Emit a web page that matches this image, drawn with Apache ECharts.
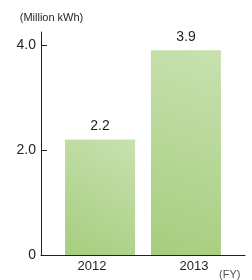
<!DOCTYPE html>
<html>
<head>
<meta charset="utf-8">
<script src="https://cdn.jsdelivr.net/npm/echarts@6/dist/echarts.min.js"></script>
<style>
  html, body { margin: 0; padding: 0; background: #fff; }
  #chart { width: 252px; height: 280px; }
</style>
</head>
<body>
<div id="chart"></div>
<script>
const years = ['2012', '2013'];
const values = [2.2, 3.9];
const yTicks = [0, 2, 4];

const chart = echarts.init(document.getElementById('chart'), null, { renderer: 'canvas' });

const barColor = new echarts.graphic.LinearGradient(1, 0, 0, 1, [
    { offset: 0, color: '#c8e1b0' },
    { offset: 1, color: '#a6cd7e' }
]);

// two series so the bars sit slightly off the category centres like the original
const first = values.map((v, i) => (i === 1 ? v : '-'));
const second = values.map((v, i) => (i === 0 ? v : '-'));

const barLabel = {
    show: true,
    position: 'top',
    distance: 6,
    color: '#231f20',
    fontSize: 14,
    fontFamily: 'Liberation Sans',
    formatter: p => (typeof p.value === 'number' ? p.value.toFixed(1) : '')
};

const option = {
    animation: false,
    grid: { left: 41, right: 7, top: 32, bottom: 23 },
    xAxis: {
        type: 'category',
        data: years,
        name: '(FY)',
        nameLocation: 'end',
        nameGap: -26,
        nameTextStyle: {
            color: '#555',
            fontSize: 11,
            fontFamily: 'Liberation Sans',
            verticalAlign: 'top',
            padding: [14, 0, 0, 0]
        },
        axisLine: { show: true, lineStyle: { color: '#231f20', width: 1 } },
        axisTick: { show: false },
        axisLabel: {
            color: '#231f20',
            fontSize: 13,
            fontFamily: 'Liberation Sans',
            margin: 5
        }
    },
    yAxis: {
        type: 'value',
        min: 0,
        max: 4.25,
        name: '(Million kWh)',
        nameLocation: 'end',
        nameGap: 9,
        nameTextStyle: {
            color: '#231f20',
            fontSize: 11,
            fontFamily: 'Liberation Sans',
            padding: [0, 0, 0, 21]
        },
        splitLine: { show: false },
        axisLine: { show: true, lineStyle: { color: '#231f20', width: 1 } },
        axisTick: {
            show: true,
            inside: true,
            length: 6,
            customValues: [2, 4],
            lineStyle: { color: '#231f20', width: 1 }
        },
        axisLabel: {
            customValues: yTicks,
            color: '#231f20',
            fontSize: 14,
            fontFamily: 'Liberation Sans',
            margin: 5,
            formatter: v => (v === 0 ? '0' : v.toFixed(1))
        }
    },
    series: [
        {
            type: 'bar',
            data: first,
            barWidth: 70,
            barGap: '-77%',
            itemStyle: { color: barColor },
            label: barLabel
        },
        {
            type: 'bar',
            data: second,
            barWidth: 70,
            itemStyle: { color: barColor },
            label: barLabel
        }
    ]
};

chart.setOption(option);
</script>
</body>
</html>
